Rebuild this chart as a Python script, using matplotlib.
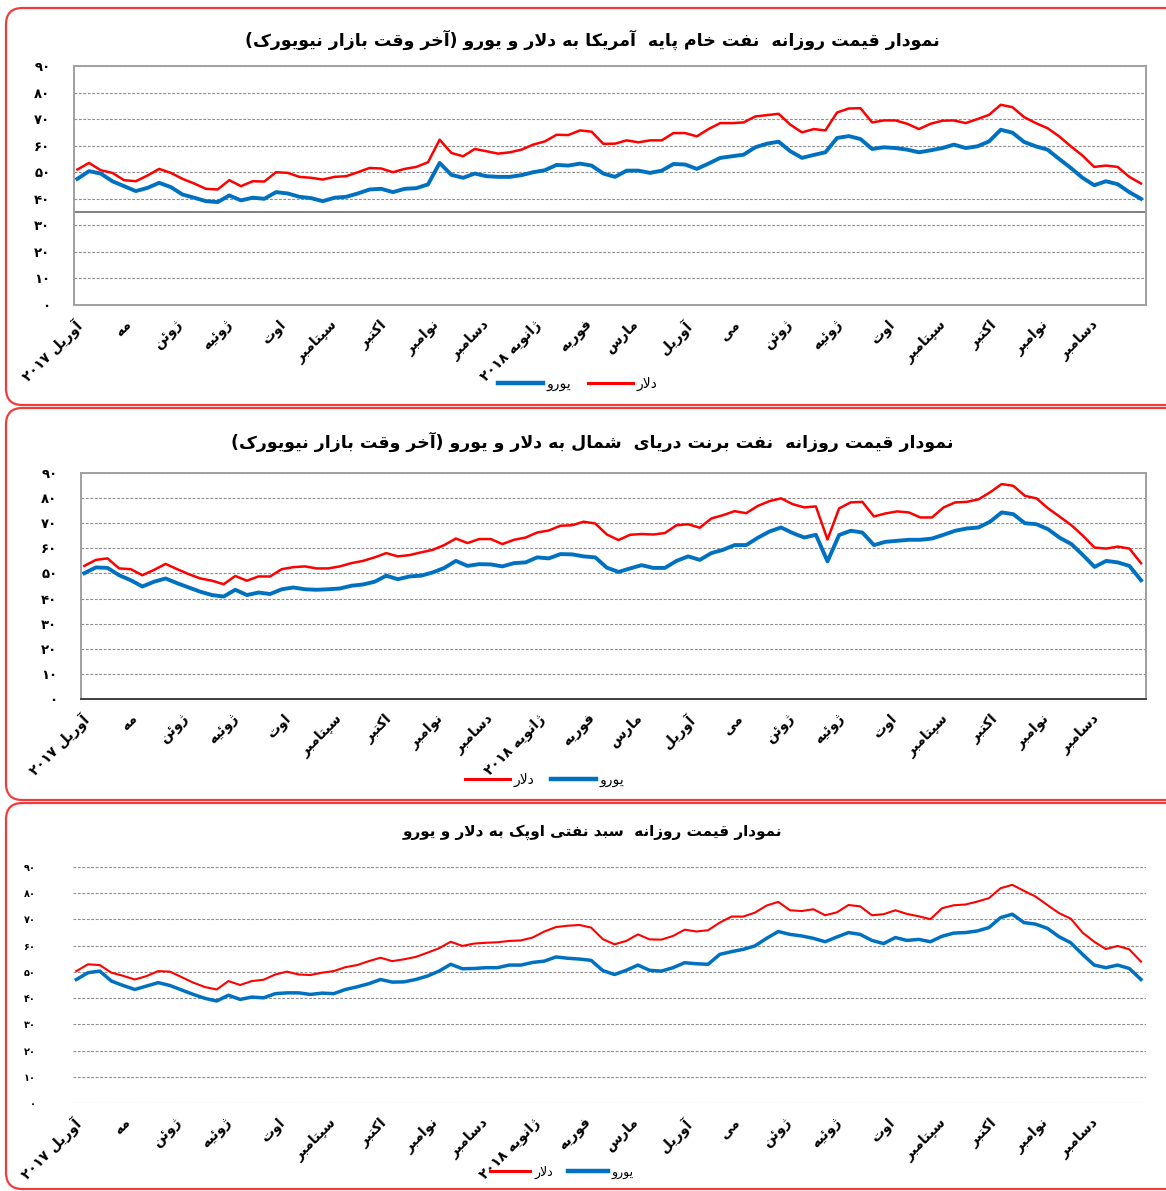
import numpy as np
import pandas as pd
import matplotlib
matplotlib.use('Agg')
import matplotlib.pyplot as plt
from matplotlib.patches import FancyBboxPatch
from matplotlib.lines import Line2D

plt.rcParams['font.family'] = ['DejaVu Sans']

# weekly sample dates (Mondays), Apr 2017 - Dec 2018
dates = pd.date_range('2017-04-03', '2018-12-31', freq='7D')
month_ticks = pd.date_range('2017-04-01', '2018-12-01', freq='MS')
month_labels = ['آوریل ۲۰۱۷', 'مه', 'ژوئن', 'ژوئیه', 'اوت', 'سپتامبر', 'اکتبر', 'نوامبر',
                'دسامبر', 'ژانویه ۲۰۱۸', 'فوریه', 'مارس', 'آوریل', 'می', 'ژوئن', 'ژوئیه',
                'اوت', 'سپتامبر', 'اکتبر', 'نوامبر', 'دسامبر']
y_ticks = [0, 10, 20, 30, 40, 50, 60, 70, 80, 90]
y_labels = ['۰', '۱۰', '۲۰', '۳۰', '۴۰', '۵۰', '۶۰', '۷۰', '۸۰', '۹۰']

titles = ['نمودار قیمت روزانه  نفت خام پایه  آمریکا به دلار و یورو (آخر وقت بازار نیویورک)',
          'نمودار قیمت روزانه  نفت برنت دریای  شمال به دلار و یورو (آخر وقت بازار نیویورک)',
          'نمودار قیمت روزانه  سبد نفتی اوپک به دلار و یورو']
lbl_usd = 'دلار'
lbl_eur = 'یورو'

# WTI
wti_usd = [51.0, 53.5, 50.75, 49.75, 47.0, 46.6, 48.75, 51.25, 49.75, 47.5,
           45.75, 43.75, 43.5, 47.0, 44.75, 46.6, 46.5, 50.0, 49.75, 48.25,
           47.9, 47.25, 48.25, 48.5, 50.0, 51.6, 51.4, 50.0, 51.25, 52.0,
           53.75, 62.25, 57.25, 56.0, 58.75, 57.9, 57.0, 57.5, 58.5, 60.4,
           61.6, 64.1, 64.0, 65.75, 65.25, 60.7, 60.75, 62.0, 61.25, 62.0,
           62.0, 64.75, 64.75, 63.5, 66.25, 68.5, 68.5, 68.75, 71.0, 71.5,
           72.0, 67.9, 65.0, 66.25, 65.75, 72.5, 74.0, 74.1, 68.75, 69.5,
           69.5, 68.25, 66.25, 68.25, 69.4, 69.5, 68.5, 70.0, 71.6, 75.4,
           74.5, 70.75, 68.5, 66.6, 63.5, 59.75, 56.25, 52.0, 52.5, 52.0,
           48.25, 45.75]
wti_eur = [47.5, 50.4, 49.5, 46.6, 44.75, 42.9, 44.1, 46.0, 44.4, 41.6,
           40.4, 39.1, 38.75, 41.25, 39.4, 40.4, 40.0, 42.5, 42.0, 40.75,
           40.25, 39.1, 40.4, 40.75, 42.0, 43.5, 43.75, 42.5, 43.75, 44.0,
           45.4, 53.5, 49.0, 47.9, 49.5, 48.5, 48.25, 48.25, 48.9, 50.0,
           50.75, 52.75, 52.5, 53.25, 52.5, 49.5, 48.25, 50.6, 50.6, 49.75,
           50.6, 53.1, 52.9, 51.25, 53.25, 55.4, 56.0, 56.6, 59.4, 60.75,
           61.5, 57.9, 55.4, 56.5, 57.5, 62.9, 63.6, 62.5, 58.75, 59.4,
           59.1, 58.5, 57.5, 58.25, 59.1, 60.4, 59.1, 59.75, 61.6, 66.0,
           64.9, 61.4, 59.75, 58.5, 55.0, 51.6, 47.9, 45.1, 46.6, 45.5,
           42.5, 40.0]

# Brent
brent_usd = [53.0, 55.4, 56.0, 52.0, 51.7, 49.3, 51.4, 53.8, 51.7, 49.7,
             48.0, 47.1, 45.7, 49.0, 47.1, 48.8, 48.8, 51.7, 52.5, 52.8,
             52.0, 52.0, 52.8, 54.1, 55.0, 56.4, 58.1, 56.8, 57.3, 58.4,
             59.4, 61.3, 63.9, 62.1, 63.7, 63.7, 61.7, 63.4, 64.3, 66.3,
             67.1, 69.0, 69.2, 70.6, 69.9, 65.5, 63.3, 65.4, 65.7, 65.5,
             66.1, 69.2, 69.6, 68.2, 71.9, 73.2, 74.8, 74.0, 76.9, 78.8,
             79.9, 77.6, 76.3, 76.7, 63.5, 75.9, 78.3, 78.5, 72.7, 73.9,
             74.7, 74.3, 72.3, 72.3, 76.3, 78.3, 78.5, 79.5, 82.3, 85.6,
             84.9, 80.9, 79.9, 75.9, 72.6, 69.2, 65.0, 60.3, 59.9, 60.7,
             59.9, 54.1]
brent_eur = [50.1, 52.4, 52.2, 49.3, 47.3, 44.8, 46.7, 48.0, 46.1, 44.4,
             42.7, 41.4, 40.8, 43.5, 41.4, 42.4, 41.8, 43.7, 44.4, 43.7,
             43.5, 43.7, 44.0, 45.1, 45.6, 46.7, 49.1, 47.7, 48.8, 49.1,
             50.4, 52.2, 55.0, 53.0, 53.7, 53.6, 52.8, 54.1, 54.4, 56.4,
             56.0, 57.7, 57.6, 56.8, 56.4, 52.3, 50.6, 52.0, 53.3, 52.2,
             52.2, 55.0, 56.8, 55.4, 58.1, 59.4, 61.3, 61.3, 64.2, 66.7,
             68.3, 66.1, 64.3, 65.4, 54.8, 65.3, 67.0, 66.3, 61.3, 62.6,
             63.0, 63.4, 63.4, 63.9, 65.4, 67.0, 67.9, 68.3, 70.6, 74.3,
             73.6, 70.0, 69.6, 67.6, 64.2, 61.7, 57.3, 52.6, 55.0, 54.4,
             53.0, 47.3]

# OPEC basket
opec_usd = [50.3, 52.9, 52.6, 49.7, 48.5, 47.1, 48.4, 50.3, 50.1, 48.0,
            45.9, 44.2, 43.3, 46.5, 45.0, 46.5, 47.0, 49.0, 50.1, 49.0,
            48.8, 49.7, 50.3, 51.8, 52.6, 54.1, 55.4, 54.1, 54.8, 55.7,
            57.3, 59.0, 61.5, 59.9, 60.8, 61.1, 61.3, 61.8, 62.0, 63.1,
            65.4, 67.1, 67.6, 67.9, 66.9, 62.5, 60.5, 61.8, 64.3, 62.4,
            62.3, 63.7, 66.1, 65.4, 65.9, 68.8, 71.1, 71.1, 72.6, 75.3,
            76.7, 73.5, 73.2, 73.9, 71.6, 72.7, 75.5, 75.0, 71.6, 72.0,
            73.5, 72.1, 71.2, 70.1, 74.3, 75.4, 75.7, 76.8, 78.1, 81.9,
            83.2, 80.9, 78.7, 75.5, 72.4, 70.3, 65.0, 61.5, 58.7, 59.9,
            58.6, 53.9]
opec_eur = [47.1, 49.7, 50.3, 46.5, 44.8, 43.3, 44.6, 45.9, 44.8, 43.1,
            41.4, 39.9, 38.9, 41.1, 39.5, 40.4, 40.1, 41.7, 42.0, 42.0,
            41.4, 41.9, 41.7, 43.3, 44.3, 45.5, 47.1, 46.1, 46.2, 47.1,
            48.4, 50.3, 52.9, 51.2, 51.3, 51.6, 51.6, 52.6, 52.6, 53.6,
            54.1, 55.7, 55.2, 54.9, 54.4, 50.5, 49.0, 50.6, 52.6, 50.6,
            50.3, 51.6, 53.5, 53.1, 52.9, 56.7, 57.7, 58.6, 59.9, 62.8,
            65.4, 64.3, 63.7, 62.8, 61.5, 63.3, 65.0, 64.3, 62.0, 60.8,
            63.1, 62.0, 62.4, 61.5, 63.6, 64.8, 65.0, 65.6, 66.9, 70.7,
            72.0, 68.8, 68.2, 66.6, 63.4, 61.1, 56.7, 52.6, 51.6, 52.6,
            51.3, 47.1]

# --- minimal Persian shaping + right-to-left ordering (matplotlib has no bidi) ---
DUAL = {'ب': 0xFE8F, 'پ': 0xFB56, 'ت': 0xFE95, 'ث': 0xFE99, 'ج': 0xFE9D, 'چ': 0xFB7A,
        'ح': 0xFEA1, 'خ': 0xFEA5, 'س': 0xFEB1, 'ش': 0xFEB5, 'ص': 0xFEB9, 'ض': 0xFEBD,
        'ط': 0xFEC1, 'ظ': 0xFEC5, 'ع': 0xFEC9, 'غ': 0xFECD, 'ف': 0xFED1, 'ق': 0xFED5,
        'ک': 0xFB8E, 'گ': 0xFB92, 'ل': 0xFEDD, 'م': 0xFEE1, 'ن': 0xFEE5, 'ه': 0xFEE9,
        'ی': 0xFBFC, 'ئ': 0xFE89}
RIGHT = {'ا': 0xFE8D, 'آ': 0xFE81, 'د': 0xFEA9, 'ذ': 0xFEAB, 'ر': 0xFEAD, 'ز': 0xFEAF,
         'ژ': 0xFB8A, 'و': 0xFEED}


def fa(s):
    out = []
    i, n = 0, len(s)
    while i < n:
        c = s[i]
        jp = i > 0 and s[i - 1] in DUAL
        if c == 'ل' and i + 1 < n and s[i + 1] in ('ا', 'آ'):
            base = 0xFEFB if s[i + 1] == 'ا' else 0xFEF5
            out.append(chr(base + (1 if jp else 0)))
            i += 2
            continue
        nxt = s[i + 1] if i + 1 < n else ''
        if c in DUAL:
            jn = nxt in DUAL or nxt in RIGHT
            form = (3 if jn else 1) if jp else (2 if jn else 0)
            out.append(chr(DUAL[c] + form))
        elif c in RIGHT:
            out.append(chr(RIGHT[c] + (1 if jp else 0)))
        else:
            out.append(c)
        i += 1
    tokens = []
    for ch in out:
        if ch.isdigit() and tokens and tokens[-1][-1].isdigit():
            tokens[-1] += ch
        else:
            tokens.append(ch)
    mirror = {'(': ')', ')': '('}
    return ''.join(mirror.get(t, t) for t in reversed(tokens))


W, H = 1166, 1191
fig = plt.figure(figsize=(W / 100, H / 100), dpi=100)
RED = '#FF0000'
BLUE = '#0070C0'


def box(top, bottom):
    p = FancyBboxPatch((6 / W, 1 - bottom / H), 1.05, (bottom - top) / H,
                       boxstyle='round,pad=0,rounding_size=0.014',
                       transform=fig.transFigure, facecolor='none',
                       edgecolor='#F03C3C', linewidth=1.6, clip_on=False)
    fig.patches.append(p)


def make_axes(left, top, right, bottom):
    return fig.add_axes([left / W, 1 - bottom / H, (right - left) / W, (bottom - top) / H])


def style(ax, small=False, framed=True):
    ax.set_ylim(0, 90)
    ax.set_xlim(pd.Timestamp('2017-04-01'), pd.Timestamp('2019-01-03'))
    ax.set_yticks(y_ticks)
    ax.set_yticklabels([fa(t) for t in y_labels], fontsize=7 if small else 9.5,
                       fontweight='bold')
    ax.set_xticks(month_ticks)
    ax.set_xticklabels([fa(t) for t in month_labels], rotation=45, ha='right',
                       rotation_mode='anchor', fontsize=10, fontweight='bold')
    ax.tick_params(length=0, axis='y', pad=17 if not small else 27)
    ax.tick_params(length=0, axis='x', pad=9)
    ax.yaxis.grid(True, color='#8C8C8C', linestyle=(0, (2.5, 1.5)), linewidth=0.8)
    ax.set_axisbelow(True)
    for s in ax.spines.values():
        s.set_visible(framed)
        s.set_color('#A0A0A0')
        s.set_linewidth(1.4)


# ---- panel 1: WTI ----
box(8, 405)
ax1 = make_axes(74, 66, 1146, 305)
style(ax1)
ax1.axhline(35, color='#7F7F7F', linewidth=1.4)
ax1.plot(dates, wti_usd, color=RED, linewidth=1.8)
ax1.plot(dates, wti_eur, color=BLUE, linewidth=2.8)
fig.text(592 / W, 1 - 40 / H, fa(titles[0]), ha='center', va='center', fontsize=12.5,
         fontweight='bold')
h_eur = Line2D([], [], color=BLUE, linewidth=3.2)
h_usd = Line2D([], [], color=RED, linewidth=2.2)
fig.legend([h_eur, h_usd], [fa(lbl_eur), fa(lbl_usd)], loc='center',
           bbox_to_anchor=(578 / W, 1 - 384 / H), ncol=2, frameon=False, fontsize=10,
           handlelength=3.2, handletextpad=0.3, columnspacing=1.2)

# ---- panel 2: Brent ----
box(408, 800)
ax2 = make_axes(81, 473, 1146, 699)
style(ax2)
ax2.spines['bottom'].set_color('#404040')
ax2.plot(dates, brent_usd, color=RED, linewidth=1.8)
ax2.plot(dates, brent_eur, color=BLUE, linewidth=2.8)
fig.text(592 / W, 1 - 442 / H, fa(titles[1]), ha='center', va='center', fontsize=12.5,
         fontweight='bold')
fig.legend([h_usd, h_eur], [fa(lbl_usd), fa(lbl_eur)], loc='center',
           bbox_to_anchor=(545 / W, 1 - 780 / H), ncol=2, frameon=False, fontsize=10,
           handlelength=3.2, handletextpad=0.3, columnspacing=1.2)

# ---- panel 3: OPEC basket ----
box(803, 1189)
ax3 = make_axes(73, 867, 1146, 1103)
style(ax3, small=True, framed=False)
ax3.plot(dates, opec_usd, color=RED, linewidth=1.5)
ax3.plot(dates, opec_eur, color=BLUE, linewidth=2.5)
fig.text(592 / W, 1 - 832 / H, fa(titles[2]), ha='center', va='center', fontsize=11,
         fontweight='bold')
fig.legend([h_usd, h_eur], [fa(lbl_usd), fa(lbl_eur)], loc='center',
           bbox_to_anchor=(562 / W, 1 - 1172 / H), ncol=2, frameon=False, fontsize=9,
           handlelength=3.2, handletextpad=0.3, columnspacing=1.2)

fig.savefig('out.png', dpi=100)
plt.close(fig)
